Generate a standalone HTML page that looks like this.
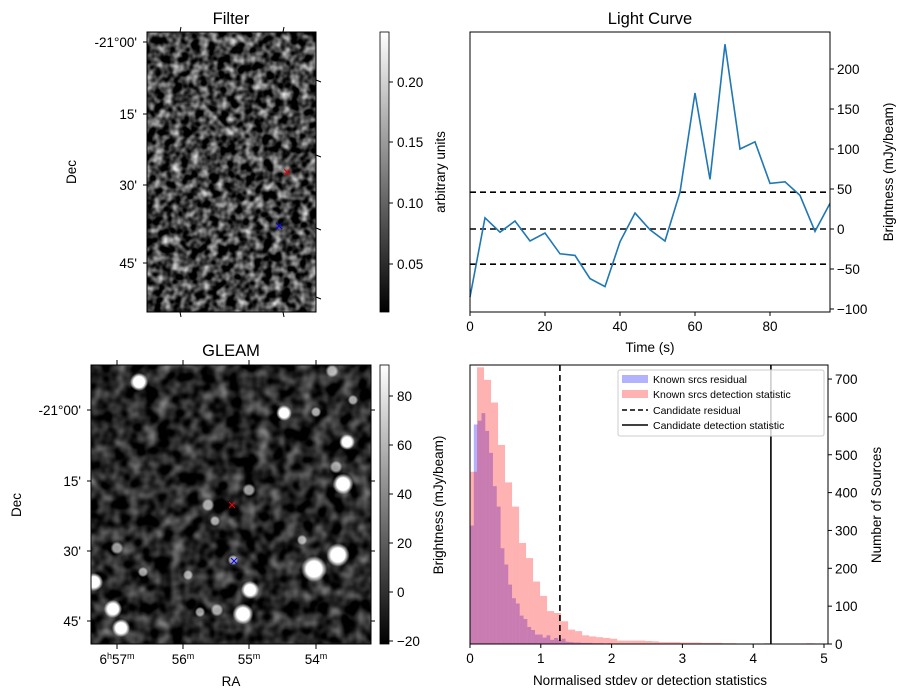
<!DOCTYPE html>
<html><head><meta charset="utf-8"><style>
body{margin:0;background:#fff;}
svg{display:block;font-family:"Liberation Sans","DejaVu Sans",sans-serif;}
</style></head><body>
<svg id="fig" width="907" height="699" viewBox="0 0 907 699">
<defs>
<filter id="noiseF" x="0" y="0" width="100%" height="100%" color-interpolation-filters="sRGB">
<feTurbulence type="fractalNoise" baseFrequency="0.11" numOctaves="2" seed="4"/>
<feColorMatrix type="matrix" values="1 0 0 0 0  1 0 0 0 0  1 0 0 0 0  0 0 0 0 1"/>
<feComponentTransfer><feFuncR type="linear" slope="1.6" intercept="-0.55"/><feFuncG type="linear" slope="1.6" intercept="-0.55"/><feFuncB type="linear" slope="1.6" intercept="-0.55"/></feComponentTransfer>
</filter>
<filter id="noiseG" x="0" y="0" width="100%" height="100%" color-interpolation-filters="sRGB">
<feTurbulence type="fractalNoise" baseFrequency="0.07" numOctaves="2" seed="9"/>
<feColorMatrix type="matrix" values="1 0 0 0 0  1 0 0 0 0  1 0 0 0 0  0 0 0 0 1"/>
<feComponentTransfer><feFuncR type="linear" slope="0.9" intercept="-0.3"/><feFuncG type="linear" slope="0.9" intercept="-0.3"/><feFuncB type="linear" slope="0.9" intercept="-0.3"/></feComponentTransfer>
</filter>
<radialGradient id="blob"><stop offset="0" stop-color="#fff"/><stop offset="0.6" stop-color="#fff"/><stop offset="1" stop-color="#fff" stop-opacity="0"/></radialGradient>
<linearGradient id="cbar" x1="0" y1="1" x2="0" y2="0"><stop offset="0" stop-color="#000"/><stop offset="1" stop-color="#fff"/></linearGradient>
<clipPath id="clipG"><rect x="91" y="365" width="280" height="279"/></clipPath>
</defs>

<!-- Filter panel -->
<g>
<text x="231" y="24" font-size="16.5" text-anchor="middle">Filter</text>
<rect x="147" y="32" width="169" height="280" fill="#000"/>
<rect x="147" y="32" width="169" height="280" filter="url(#noiseF)"/>
<rect x="147" y="32" width="169" height="280" fill="none" stroke="#000"/>
<g font-size="13.5" text-anchor="end">
<text x="137" y="47">-21°00'</text><text x="137" y="119">15'</text><text x="137" y="190">30'</text><text x="137" y="268">45'</text>
<path d="M143 42h4M143 114h4M143 185h4M143 263h4" stroke="#000"/>
<path d="M316 80l5 2M316 155l5 2M316 228l5 2M316 297l5 2M180 32l1 -5M283 32l1 -5M180 312l1 5M283 312l1 5" stroke="#000"/>
</g>
<text transform="translate(76 172) rotate(-90)" font-size="13.5" text-anchor="middle">Dec</text>
<text x="287" y="177" font-size="15" fill="#e00" text-anchor="middle">×</text>
<text x="279" y="231" font-size="15" fill="#00f" text-anchor="middle">×</text>
<rect x="380" y="32" width="9" height="280" fill="url(#cbar)" stroke="#000" stroke-width="0.8"/>
<g font-size="13.5">
<path d="M389 82h4M389 142h4M389 203h4M389 264h4" stroke="#000"/>
<text x="397" y="87">0.20</text><text x="397" y="147">0.15</text><text x="397" y="208">0.10</text><text x="397" y="269">0.05</text>
</g>
<text transform="translate(445 172) rotate(-90)" font-size="13.5" text-anchor="middle">arbitrary units</text>
</g>

<!-- GLEAM panel -->
<g>
<text x="231" y="356" font-size="16.5" text-anchor="middle">GLEAM</text>
<rect x="91" y="365" width="280" height="279" fill="#111"/>
<rect x="91" y="365" width="280" height="279" filter="url(#noiseG)"/>
<g id="blobs" clip-path="url(#clipG)"></g>
<rect x="91" y="365" width="280" height="279" fill="none" stroke="#000"/>
<g font-size="13.5" text-anchor="end">
<text x="81" y="415">-21°00'</text><text x="81" y="486">15'</text><text x="81" y="556">30'</text><text x="81" y="626">45'</text>
<path d="M87 410h4M87 481h4M87 551h4M87 621h4M371 410h4M371 481h4M371 551h4M371 621h4" stroke="#000"/>
</g>
<g font-size="13.5" text-anchor="middle">
<path d="M117 644v5M183 644v5M249 644v5M316 644v5M117 365v-5M183 365v-5M249 365v-5M316 365v-5" stroke="#000"/>
<text x="117" y="664">6<tspan font-size="9" dy="-5">h</tspan><tspan dy="5">57</tspan><tspan font-size="9" dy="-5">m</tspan></text>
<text x="183" y="664">56<tspan font-size="9" dy="-5">m</tspan></text>
<text x="249" y="664">55<tspan font-size="9" dy="-5">m</tspan></text>
<text x="316" y="664">54<tspan font-size="9" dy="-5">m</tspan></text>
</g>
<text x="231" y="686" font-size="13.5" text-anchor="middle">RA</text>
<text transform="translate(21 505) rotate(-90)" font-size="13.5" text-anchor="middle">Dec</text>
<text x="232" y="510" font-size="15" fill="#e00" text-anchor="middle">×</text>
<text x="234" y="566" font-size="15" fill="#00f" text-anchor="middle">×</text>
<rect x="380" y="365" width="9" height="279" fill="url(#cbar)" stroke="#000" stroke-width="0.8"/>
<g font-size="13.5">
<path d="M389 396h4M389 445h4M389 494h4M389 543h4M389 592h4M389 641h4" stroke="#000"/>
<text x="397" y="401">80</text><text x="397" y="450">60</text><text x="397" y="499">40</text><text x="397" y="548">20</text><text x="397" y="597">0</text><text x="397" y="646">−20</text>
</g>
<text transform="translate(443 505) rotate(-90)" font-size="13.5" text-anchor="middle">Brightness (mJy/beam)</text>
</g>

<!-- Light curve -->
<g>
<text x="650" y="24" font-size="16.5" text-anchor="middle">Light Curve</text>
<g id="lcThresh"></g>
<polyline id="lcLine" fill="none" stroke="#1f77b4" stroke-width="1.6"/>
<rect x="470" y="32" width="360" height="280" fill="none" stroke="#000"/>
<g id="lcX" font-size="13.5" text-anchor="middle"></g>
<g id="lcY" font-size="13.5"></g>
<text x="650" y="352" font-size="13.5" text-anchor="middle">Time (s)</text>
<text transform="translate(893 172) rotate(-90)" font-size="13.5" text-anchor="middle">Brightness (mJy/beam)</text>
</g>

<!-- Histogram -->
<g>
<g id="histBlue" fill="rgb(0,0,255)" fill-opacity="0.3"></g>
<g id="histRed" fill="rgb(255,0,0)" fill-opacity="0.3"></g>
<g id="histLines"></g>
<rect x="470" y="365" width="358" height="279" fill="none" stroke="#000"/>
<g id="hX" font-size="13.5" text-anchor="middle"></g>
<g id="hY" font-size="13.5"></g>
<text x="650" y="685" font-size="13.5" text-anchor="middle">Normalised stdev or detection statistics</text>
<text transform="translate(881 505) rotate(-90)" font-size="13.5" text-anchor="middle">Number of Sources</text>
<g font-size="10.5">
<rect x="618" y="370" width="206" height="66" fill="#fff" fill-opacity="0.8" stroke="#ccc" rx="2"/>
<rect x="622" y="375" width="26" height="8" fill="rgb(0,0,255)" fill-opacity="0.3"/>
<text x="653" y="383">Known srcs residual</text>
<rect x="622" y="390" width="26" height="8" fill="rgb(255,0,0)" fill-opacity="0.3"/>
<text x="653" y="398">Known srcs detection statistic</text>
<path d="M622 410h26" stroke="#000" stroke-width="1.5" stroke-dasharray="5 3"/>
<text x="653" y="414">Candidate residual</text>
<path d="M622 425h26" stroke="#000" stroke-width="1.5"/>
<text x="653" y="429">Candidate detection statistic</text>
</g>
</g>
</svg>
<script>
// ---- Light curve data ----
const lcTimes = [0,4,8,12,16,20,24,28,32,36,40,44,48,52,56,60,64,68,72,76,80,84,88,92,96];
const lcValues = [-85,14,-4,10,-15,-5,-31,-33,-62,-72,-16,20,-1,-15,46,170,62,231,100,109,57,59,42,-3,32];
const lcThresholds = [46,0,-44];
const lcXTicks = [0,20,40,60,80];
const lcYTicks = [-100,-50,0,50,100,150,200];
// ---- Histogram data ----
const redBinWidth = 0.099;
const redCounts = [455,731,698,638,526,427,363,267,227,165,127,87,82,60,38,34,23,20,18,16,14,9,9,9,9,8,7,5,5,5,4,4,4,3,3,3,2,2,1,1,1,1,2,1,1,0,1,1,2,0,1];
const blueBinWidth = 0.054;
const blueCounts = [313,580,590,610,563,505,417,363,253,210,157,121,107,75,66,45,37,25,25,17,23,11,16,11,14,6,5,4,4,3,3,3,2,2,2,1,2,1,1,1,1,1,1,0,1];
const candResidual = 1.27;
const candDetection = 4.25;
const hXTicks = [0,1,2,3,4,5];
const hYTicks = [0,100,200,300,400,500,600,700];

const NS='http://www.w3.org/2000/svg';
function mk(tag, attrs, parent){const e=document.createElementNS(NS,tag);for(const k in attrs)e.setAttribute(k,attrs[k]);parent.appendChild(e);return e;}

// light curve axes
const lx = t => 470 + (t-0)/(96-0)*360;
const ly = v => 229 - v*0.8;
document.getElementById('lcLine').setAttribute('points', lcTimes.map((t,i)=>lx(t)+','+ly(lcValues[i])).join(' '));
const lt = document.getElementById('lcThresh');
lcThresholds.forEach(v=>{
  const l = mk('line',{x1:470,x2:830,y1:ly(v),y2:ly(v),stroke:'#000','stroke-width':1.6,'stroke-dasharray':'6 4'},lt);
  
  
});
const lxg = document.getElementById('lcX');
lcXTicks.forEach(t=>{
  mk('line',{x1:lx(t),x2:lx(t),y1:312,y2:316,stroke:'#000'},lxg);
  const tx = mk('text',{x:lx(t),y:331},lxg); tx.textContent=t;
  
  
});
const lyg = document.getElementById('lcY');
lcYTicks.forEach(v=>{
  mk('line',{x1:830,x2:834,y1:ly(v),y2:ly(v),stroke:'#000'},lyg);
  const tx = mk('text',{x:837,y:ly(v)+5},lyg); tx.textContent = v<0 ? '−'+(-v) : v;
  
  
});

// histogram axes
const hx = v => 470 + v*70.8;
const hy = c => 644 - c*0.3785;
const hb = document.getElementById('histBlue');
blueCounts.forEach((c,i)=>{ if(!c) return;
  const r = mk('rect',{x:hx(i*blueBinWidth),y:hy(c),width:blueBinWidth*70.8,height:644-hy(c)},hb);
  
  
});
const hr = document.getElementById('histRed');
redCounts.forEach((c,i)=>{ if(!c) return;
  const r = mk('rect',{x:hx(i*redBinWidth),y:hy(c),width:redBinWidth*70.8,height:644-hy(c)},hr);
  
  
});
const hl = document.getElementById('histLines');
const l1 = mk('line',{x1:hx(candResidual),x2:hx(candResidual),y1:365,y2:644,stroke:'#000','stroke-width':1.6,'stroke-dasharray':'6 4'},hl);


const l2 = mk('line',{x1:hx(candDetection),x2:hx(candDetection),y1:365,y2:644,stroke:'#000','stroke-width':1.6},hl);


const hxg = document.getElementById('hX');
hXTicks.forEach(v=>{
  mk('line',{x1:hx(v),x2:hx(v),y1:644,y2:648,stroke:'#000'},hxg);
  const tx = mk('text',{x:hx(v),y:663},hxg); tx.textContent=v;
  
  
});
const hyg = document.getElementById('hY');
hYTicks.forEach(v=>{
  mk('line',{x1:828,x2:832,y1:hy(v),y2:hy(v),stroke:'#000'},hyg);
  const tx = mk('text',{x:835,y:hy(v)+5},hyg); tx.textContent=v;
  
  
});

// GLEAM bright sources (image features)
const blobs = [[139,382,7],[332,371,5],[284,413,6],[347,442,6],[336,467,5],[343,484,8],[249,490,5],[208,505,5],[215,521,4],[338,555,9],[314,569,10],[233,560,4],[250,590,7],[243,614,8],[113,609,7],[121,628,7],[94,582,7],[117,548,5],[217,610,5],[302,540,4],[143,572,4],[353,400,4],[316,412,4],[200,612,4],[188,575,4]];
const bg = document.getElementById('blobs');
blobs.forEach(b=>{
  const c = mk('circle',{cx:b[0],cy:b[1],r:b[2]*1.3,fill:'url(#blob)','fill-opacity':b[2]>5?1:0.6},bg);
  
  
});
</script>
</body></html>
